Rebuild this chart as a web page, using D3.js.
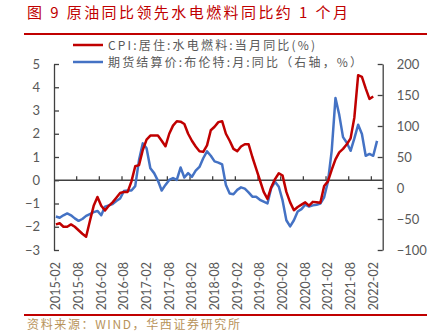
<!DOCTYPE html>
<html><head><meta charset="utf-8">
<script src="https://cdn.jsdelivr.net/npm/d3@7/dist/d3.min.js"></script>
<style>body{margin:0;background:#fff}svg{display:block}</style>
</head><body>
<svg id="c" width="439" height="332"></svg>
<script>
// ---- data ----
const startYear = 2015, startMonth = 2, nMonths = 87; // 2015-02 .. 2022-04
const cpi = [-1.9,-1.85,-2.0,-2.0,-1.9,-2.0,-2.15,-2.3,-2.43,-1.75,-1.1,-0.72,-1.1,-1.3,-1.1,-0.95,-0.75,-0.55,-0.5,-0.5,-0.05,0.6,0.65,1.3,1.75,1.92,1.92,1.92,1.7,1.46,2.0,2.35,2.54,2.52,2.42,2.0,1.7,1.45,1.25,1.22,1.5,2.15,2.3,2.5,2.54,2.0,1.7,1.35,1.25,1.45,1.55,1.55,1.0,0.5,0.0,-0.5,-0.8,-0.3,0.05,0.3,0.2,-0.5,-0.95,-1.29,-1.15,-1.05,-0.95,-1.09,-0.93,-0.95,-0.97,-0.25,-0.05,0.45,0.9,1.2,1.35,1.55,1.8,2.7,4.52,4.45,3.95,3.5,3.6];
const brent = [-46,-48,-44,-41,-44,-49,-53,-50,-45,-42,-39,-37,-44,-30,-28,-26,-21,-17,-5,-4,-4,3,45,72,64,32,24,12,-4,5,13,16,13,33,17,24,18,28,34,48,59,52,43,41,38,5,-9,-10,-3,1,-1,-7,-14,-14,-19,-22,-25,0,10,2,-20,-52,-62,-52,-38,-34,-27,-30,-28,-27,-25,-15,10,60,145,118,82,73,60,80,102,87,52,55,52,76];
const leftTicks = [-3,-2,-1,0,1,2,3,4,5];
const rightTicks = [-100,-50,0,50,100,150,200];
const titleText = "图 9  原油同比领先水电燃料同比约 1 个月";
const legendCPI = "CPI:居住:水电燃料:当月同比(%)";
const legendBrent = "期货结算价:布伦特:月:同比（右轴，%）";
const sourceText = "资料来源：WIND，华西证券研究所";

const months = d3.range(nMonths).map(i => {
  const m0 = startMonth - 1 + i;
  const y = startYear + Math.floor(m0 / 12), m = (m0 % 12) + 1;
  return y + "-" + String(m).padStart(2, "0");
});

// ---- layout ----
const svg = d3.select("#c");
const L = 54, R = 382.7, T = 64, B = 250;
const x = d3.scaleBand().domain(months).range([L, R]).padding(0);
const yL = d3.scaleLinear().domain([-3, 5]).range([B, T]);
const yR = d3.scaleLinear().domain([-100, 200]).range([B, T]);
const axisCol = "#404040", txtCol = "#595959";
const red = "#c00000", blue = "#4472c4";

// title
svg.append("text").attr("x", 27).attr("y", 18).attr("fill", red)
  .attr("font-family", "Noto Sans CJK SC").attr("font-size", 15)
  .attr("textLength", 321).attr("lengthAdjust", "spacing").text(titleText);
svg.append("line").attr("x1", 24).attr("x2", 427).attr("y1", 34).attr("y2", 34)
  .attr("stroke", red).attr("stroke-width", 2);
svg.append("line").attr("x1", 24).attr("x2", 427).attr("y1", 315).attr("y2", 315)
  .attr("stroke", red).attr("stroke-width", 2);
svg.append("text").attr("x", 27).attr("y", 329).attr("fill", "#b8935a")
  .attr("font-family", "Noto Sans CJK SC").attr("font-size", 12)
  .attr("textLength", 213).attr("lengthAdjust", "spacing").text(sourceText);

// legend
const lg = [[legendCPI, red, 45, 207], [legendBrent, blue, 62, 254]];
lg.forEach(([t, c, yy, w]) => {
  svg.append("line").attr("x1", 73).attr("x2", 103).attr("y1", yy).attr("y2", yy)
    .attr("stroke", c).attr("stroke-width", 2.5);
  svg.append("text").attr("x", 108).attr("y", yy + 4.5).attr("fill", txtCol)
    .attr("font-family", "Noto Sans CJK SC").attr("font-size", 12)
    .attr("textLength", w).attr("lengthAdjust", "spacing").text(t);
});

// left axis
const gL = svg.append("g").attr("transform", `translate(${L},0)`)
  .call(d3.axisLeft(yL).tickValues(leftTicks).tickSizeInner(-5).tickSizeOuter(0).tickPadding(14));
// right axis
const gR = svg.append("g").attr("transform", `translate(${R},0)`)
  .call(d3.axisRight(yR).tickValues(rightTicks).tickSizeInner(-5).tickSizeOuter(0).tickPadding(14));
[gL, gR].forEach(g => {
  g.select(".domain").attr("stroke", axisCol).attr("stroke-width", 1.3);
  g.selectAll(".tick line").attr("stroke", axisCol).attr("stroke-width", 1.3);
  g.selectAll(".tick text").attr("fill", txtCol).attr("font-family", "Lato").attr("font-size", 13);
});

// x axis at zero
const y0 = yL(0);
svg.append("line").attr("x1", L).attr("x2", R).attr("y1", y0).attr("y2", y0)
  .attr("stroke", axisCol).attr("stroke-width", 1.3);
const labelIdx = d3.range(0, nMonths, 6).filter(i => i <= 84);
svg.append("g").selectAll("line").data(d3.range(6, nMonths, 6)).join("line")
  .attr("x1", i => x(months[i])).attr("x2", i => x(months[i]))
  .attr("y1", y0).attr("y2", y0 - 4).attr("stroke", axisCol).attr("stroke-width", 1.3);
svg.append("g").selectAll("text").data(labelIdx).join("text")
  .attr("transform", i => `translate(${x(months[i]) + x.bandwidth() / 2 + 4.5},262) rotate(-90)`)
  .attr("text-anchor", "end").attr("fill", txtCol)
  .attr("font-family", "Lato").attr("font-size", 12.5)
  .text(i => months[i]);

// lines
const cx = i => x(months[i]) + x.bandwidth() / 2;
svg.append("path").datum(brent).attr("fill", "none").attr("stroke", blue)
  .attr("stroke-width", 2.5).attr("stroke-linejoin", "round")
  .attr("d", d3.line().x((d, i) => cx(i)).y(d => yR(d)));
svg.append("path").datum(cpi).attr("fill", "none").attr("stroke", red)
  .attr("stroke-width", 2.5).attr("stroke-linejoin", "round")
  .attr("d", d3.line().x((d, i) => cx(i)).y(d => yL(d)));
</script>
</body></html>
